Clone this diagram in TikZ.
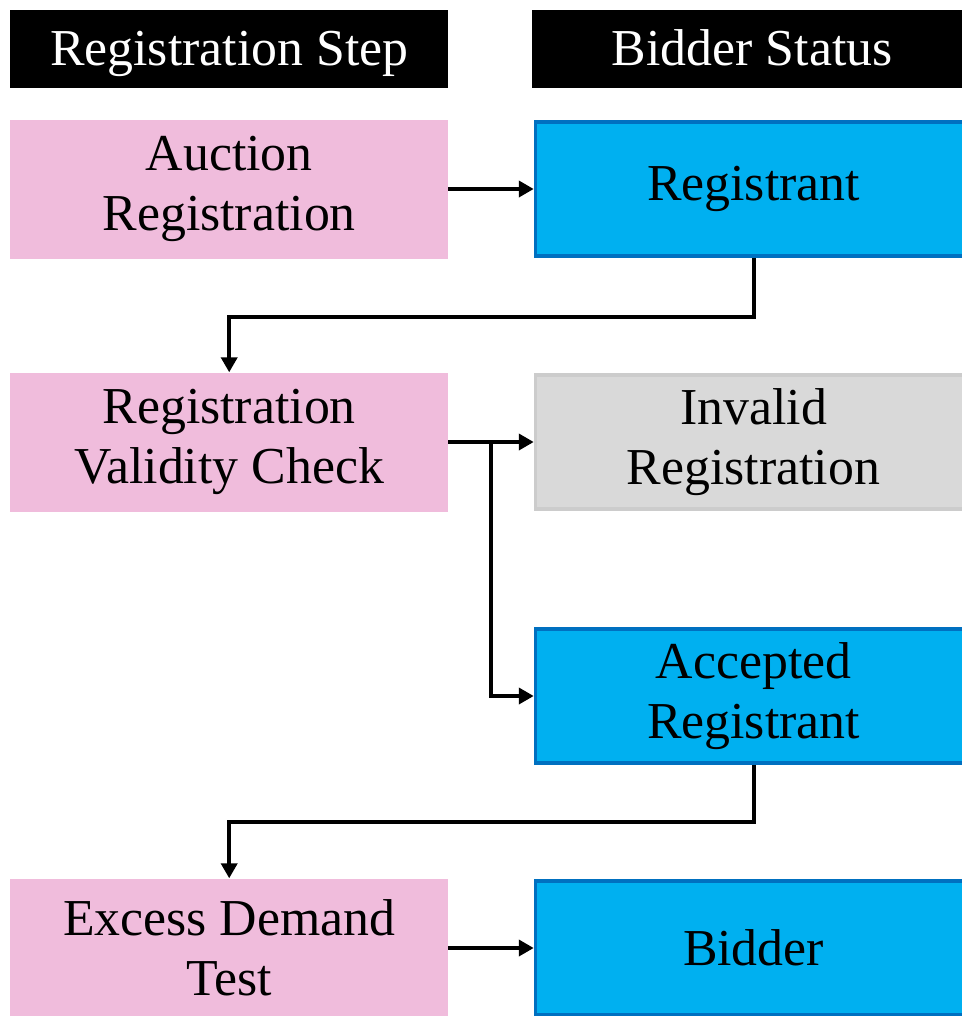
\documentclass[tikz,border=0pt]{standalone}
\usepackage{fontspec}
\setmainfont{Liberation Serif}
\usepackage{tikz}
\usetikzlibrary{arrows.meta,positioning}
\definecolor{steppink}{RGB}{240,188,220}
\definecolor{statblue}{RGB}{0,176,240}
\definecolor{statedge}{RGB}{0,112,192}
\definecolor{statgray}{RGB}{217,217,217}
\definecolor{grayedge}{RGB}{204,204,204}

\begin{document}
\begin{tikzpicture}[x=1bp,y=-1bp,
  font=\fontsize{52}{60}\selectfont,
  head/.style={fill=black,text=white,inner sep=0pt,minimum height=78bp,text height=40bp,text depth=8bp,anchor=north west},
  stepbox/.style={fill=steppink,align=center,inner sep=0pt,minimum width=438bp,minimum height=139bp,anchor=west},
  statbox/.style={fill=statblue,draw=statedge,line width=3.5bp,align=center,inner sep=0pt,minimum width=436bp,minimum height=134bp,anchor=west},
  badbox/.style={statbox,fill=statgray,draw=grayedge},
  arr/.style={line width=4bp,-{Triangle[length=15bp,width=16bp]}}]
\useasboundingbox (0,0) rectangle (962,1016);
\clip (0,0) rectangle (962,1016);
% column heads
\node[head,minimum width=438bp] (headstep) at (10,10) {Registration Step};
\node[head,minimum width=440bp] (headstat) at (532,10) {Bidder Status};
% registration steps
\node[stepbox] (auction) at (10,189) {Auction\\Registration};
\node[stepbox] (validity) at (10,442) {Registration\\Validity Check};
\node[stepbox] (excess) at (10,948) {Excess Demand\\Test};
% bidder status
\node[statbox] (registrant) at (533.75,189) {Registrant};
\node[badbox] (invalid) at (533.75,442) {Invalid\\Registration};
\node[statbox] (accepted) at (533.75,696) {Accepted\\Registrant};
\node[statbox] (bidder) at (533.75,948) {Bidder};
% connectors
\draw[arr] (auction.east) -- (registrant.west);
\draw[arr] (registrant.south) -- ++(0,59) -| (validity.north);
\draw[arr] (validity.east) -- (invalid.west);
\draw[arr] (validity.east) -- ++(43,0) |- (accepted.west);
\draw[arr] (accepted.south) -- ++(0,57) -| (excess.north);
\draw[arr] (excess.east) -- (bidder.west);
\end{tikzpicture}
\end{document}
